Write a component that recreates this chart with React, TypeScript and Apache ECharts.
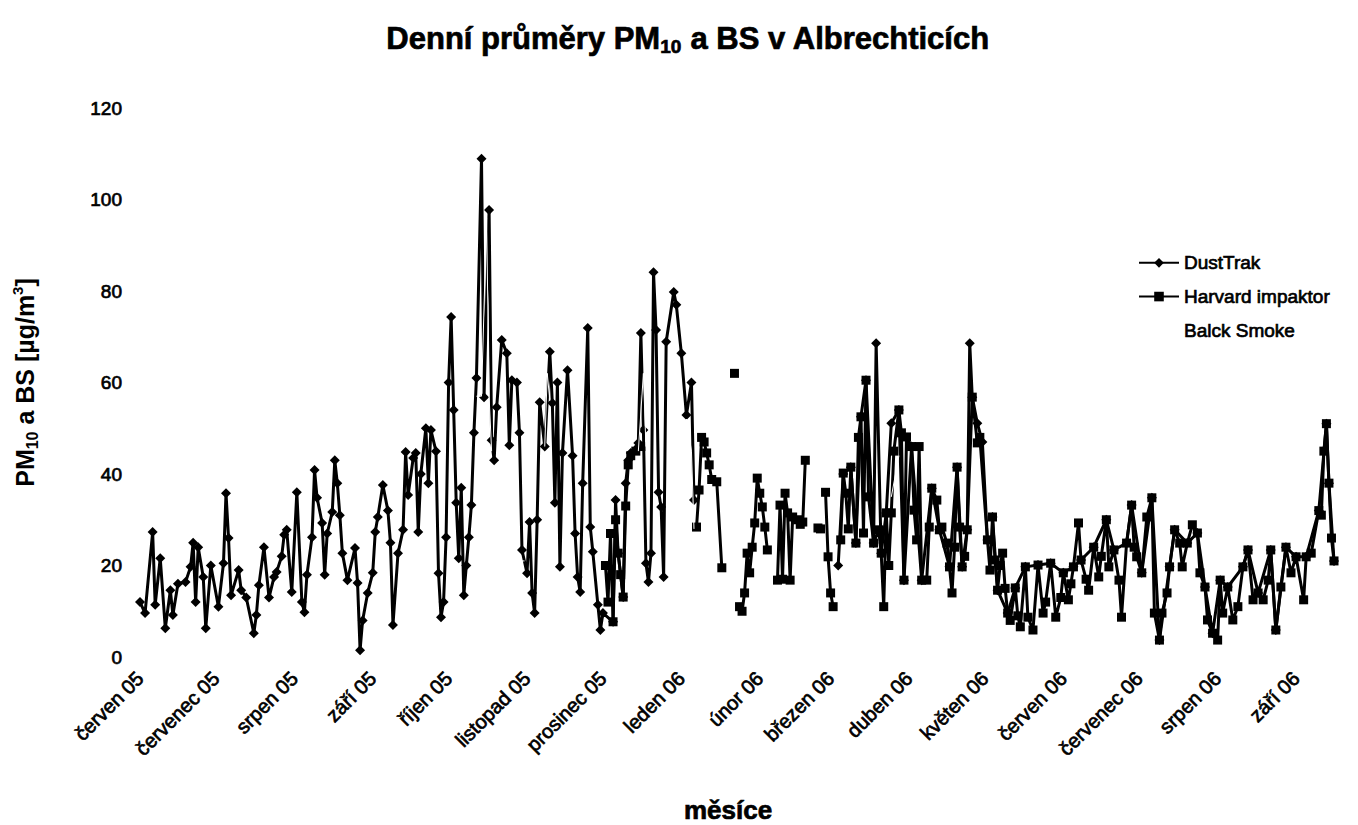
import React, { useEffect, useRef } from "react";
import * as echarts from "echarts";

// Day index = days since 1 June 2005
const START_YEAR = 2005;
const START_MONTH = 5; // June (0-based)
const DAY_COUNT = 473;

const monthNames = ["leden", "únor", "březen", "duben", "květen", "červen", "červenec", "srpen", "září", "říjen", "listopad", "prosinec"];

const yTicks = { min: 0, max: 120, step: 20 };

// DustTrak (diamonds), June 2005 - January 2006
const dustTrakA: [number, number][] = [
  [0, 12], [2, 9.6], [5, 27.3], [6, 11.4], [8, 21.6], [10, 6.3], [12, 14.6], [13, 9.2], [15, 16], [18, 16.4],
  [20, 19.7], [21, 25], [22, 12], [23, 24], [25, 17.5], [26, 6.3], [28, 20], [31, 11], [33, 20.5], [34, 35.8],
  [35, 26], [36, 13.5], [39, 19], [40, 14.6], [42, 13], [45, 5.2], [46, 9.2], [47, 15.7], [49, 24], [51, 13],
  [53, 17.5], [54, 18.6], [56, 22], [57, 26.7], [58, 27.8], [60, 14.2], [62, 36], [64, 12], [65, 9.8], [66, 18],
  [68, 26.2], [69, 40.9], [70, 34.8], [72, 29.3], [73, 18], [74, 27], [76, 31.7], [77, 43], [78, 38], [79, 31],
  [80, 22.7], [82, 16.8], [85, 23.8], [86, 16.2], [87, 1.5], [88, 8], [90, 14], [92, 18.4], [93, 27.3], [94, 30.6],
  [96, 37.6], [98, 32], [99, 25], [100, 7], [102, 22.7], [104, 27.8], [105, 44.8], [106, 35.4], [108, 43.5], [109, 44.6],
  [110, 27.3], [111, 40], [113, 50], [114, 38], [115, 49.6], [117, 45], [118, 18.3], [119, 8.7], [120, 12], [121, 26.2],
  [122, 60], [123, 74.3], [124, 54], [125, 33.7], [126, 21.6], [127, 37], [128, 13.5], [129, 20], [130, 26.2], [131, 33.2],
  [132, 49], [133, 61], [135, 108.9], [136, 56.8], [138, 97.7], [139, 47.4], [140, 43], [141, 54.6], [143, 69.3], [145, 66.4],
  [146, 46.3], [147, 60.5], [149, 60], [150, 49], [151, 23.4], [153, 18.3], [154, 29.5], [155, 14], [156, 9.6], [157, 30],
  [158, 55.7], [160, 46], [162, 66.7], [163, 55.5], [164, 33.7], [165, 60], [166, 19.7], [167, 44.6], [169, 62.7], [171, 44],
  [172, 27], [173, 17.5], [174, 14.2], [175, 38], [177, 71.9], [178, 28.4], [179, 23], [181, 11.4], [182, 5.9], [183, 9.6],
  [187, 7.7], [188, 34.3], [189, 22.7], [191, 13.1], [192, 38], [193, 43], [194, 44.6], [197, 46.8], [198, 70.8], [199, 49.6],
  [200, 20.5], [201, 16.4], [202, 22.7], [203, 84.1], [204, 71.5], [205, 36], [206, 32.8], [207, 17.5], [208, 68.9], [211, 79.8],
  [212, 77], [214, 66.4], [216, 52.9], [218, 60], [219, 34.3],
];

// DustTrak, March - May 2006
const dustTrakB: [number, number][] = [
  [276, 20], [278, 40], [281, 41.5], [283, 24.9], [285, 52.5], [287, 60.5], [290, 24.9], [291, 68.6], [293, 22.7], [295, 31.5],
  [297, 51.1], [300, 54], [302, 16.8], [305, 46], [309, 16.8], [313, 36.9], [316, 27.8], [320, 19.7], [323, 41.5], [325, 19.7],
  [327, 27.8], [328, 68.6], [329, 56.8], [331, 51.1], [333, 47], [335, 25.6],
];

// DustTrak, May - September 2006
const dustTrakC: [number, number][] = [
  [337, 30.6], [339, 14.6], [343, 9.6], [346, 15.1], [350, 19.7], [355, 20.1], [360, 20.5], [365, 18.4], [369, 19.7], [372, 21.2],
  [377, 24], [382, 30], [385, 23.4], [390, 24.9], [392, 33.2], [396, 18.4], [400, 34.8], [403, 3.7], [407, 19.7], [409, 27.8],
  [414, 24.9], [418, 27.1], [421, 15.3], [424, 5.2], [427, 16.8], [430, 15.3], [436, 19.7], [438, 23.4], [442, 14], [447, 23.4],
  [449, 5.9], [453, 24], [457, 21.9], [461, 21.9], [466, 32], [469, 51], [470, 38], [472, 21],
];

// Harvard impaktor (squares); null = missing days
const harvard: [number, number | null][] = [
  [184, 20], [185, 12], [186, 27], [187, 7.7], [188, 30], [189, 22.7], [190, 18], [191, 13.1], [192, 33], [193, 42],
  [194, 44], [196, 45], [198, 46], [199, null],
  [220, 28.4], [221, 36.5], [222, 48], [223, 47], [224, 44.6], [225, 42], [226, 38.8], [228, 38.3], [230, 19.5], [231, null],
  [235, 62], [236, null],
  [237, 11], [238, 10], [239, 14], [240, 22.7], [241, 18.4], [242, 24], [243, 29.3], [244, 39.1], [245, 35.8], [246, 32.8],
  [247, 28.4], [248, 23.4], [249, null],
  [252, 16.8], [253, 33.2], [254, 17], [255, 35.8], [256, 31.5], [257, 16.8], [258, 30.6], [260, 30], [261, 29], [262, 29.5],
  [263, 43], [264, null],
  [268, 28.2], [269, 28], [270, null],
  [271, 36], [272, 21.9], [273, 14], [274, 11], [275, null],
  [277, 25.6], [278, 40.2], [279, 35.8], [280, 28], [281, 41.5], [283, 24.9], [284, 48], [285, 52.5], [286, 27.1], [287, 60.5],
  [288, 35], [290, 24.9], [292, 27.8], [293, 22.7], [294, 11], [295, 31.5], [296, 20], [297, 31.5], [298, 45], [300, 54],
  [301, 49], [302, 16.8], [303, 48.1], [305, 46], [306, 32.1], [307, 25.6], [308, 46], [309, 16.8], [311, 16.8], [312, 28.4],
  [313, 36.9], [315, 34.3], [316, 27.8], [317, 28.4], [319, 24.9], [320, 19.7], [321, 14], [322, 24], [323, 41.5], [324, 28.4],
  [325, 19.7], [326, 22], [327, 27.8], [329, 56.8], [331, 46.8], [332, 48],
  [335, 25.6], [336, 19], [337, 30.6], [338, 21.2], [339, 14.6], [340, 20], [341, 22.7], [342, 15], [343, 9.6], [344, 8],
  [346, 15.1], [347, 9], [348, 6.6], [350, 19.7], [351, 8.7], [353, 5.9], [355, 20.1], [357, 9.6], [358, 12], [360, 20.5],
  [362, 8.7], [364, 13], [365, 18.4], [367, 12.5], [368, 16], [369, 19.7], [371, 29.3], [372, 21.2], [374, 17], [375, 14.6],
  [377, 24], [379, 17.5], [380, 22], [382, 30], [383, 19.7], [385, 23.4], [387, 16.8], [388, 8.7], [390, 24.9], [392, 33.2],
  [393, 24], [394, 21.9], [396, 18.4], [398, 30.6], [400, 34.8], [401, 9.6], [403, 3.7], [404, 9.6], [406, 14], [407, 19.7],
  [409, 27.8], [411, 24.9], [412, 19.7], [414, 24.9], [416, 28.9], [418, 27.1], [419, 18.4], [421, 15.3], [422, 8.1], [424, 5.2],
  [426, 3.7], [427, 16.8], [428, 9.6], [430, 15.3], [432, 8.1], [434, 11], [436, 19.7], [438, 23.4], [440, 12.5], [442, 14],
  [444, 12.5], [446, 16.8], [447, 23.4], [449, 5.9], [451, 15.3], [453, 24], [455, 18.4], [457, 21.9], [460, 12.5], [461, 21.9],
  [463, 22.7], [466, 32], [467, 31], [468, 45], [469, 51], [470, 38], [471, 26], [472, 21],
];

// Black Smoke (white line), visible only where it crosses the black lines
const blackSmoke: [number, number | null][] = [
  [133, 57], [135, 57], [137, 96], [138, 57], [139, 45], [140, null],
  [150, 21], [152, 21], [153, null],
  [160, 46], [161, 62], [162, 56], [163, null],
  [197, 45], [199, 62], [200, 46], [201, null],
  [214, 50], [216, 52], [218, 45], [219, 28], [220, null],
  [233, 45], [234, 45], [235, null],
  [266, 22], [268, 22], [269, null],
  [297, 35], [300, 44],
];

function buildDays(): string[] {
  const out: string[] = [];
  for (let i = 0; i < DAY_COUNT; i++) {
    const d = new Date(Date.UTC(START_YEAR, START_MONTH, 1 + i));
    const m = String(d.getUTCMonth() + 1).padStart(2, "0");
    const dd = String(d.getUTCDate()).padStart(2, "0");
    out.push(`${d.getUTCFullYear()}-${m}-${dd}`);
  }
  return out;
}

const FONT = "'Liberation Sans', Arial, sans-serif";
const heavy = { textBorderColor: "#000", textBorderWidth: 0.7 };
const heavyG = { stroke: "#000", lineWidth: 0.7 };

export default function App() {
  const ref = useRef<HTMLDivElement>(null);
  useEffect(() => {
    if (!ref.current) return;
    const chart = echarts.init(ref.current, undefined, { renderer: "svg" });
    const days = buildDays();
    const lineBase = {
      type: "line" as const,
      lineStyle: { color: "#000", width: 3 },
      itemStyle: { color: "#000" },
      connectNulls: false,
      showAllSymbol: true,
    };
    chart.setOption({
      animation: false,
      backgroundColor: "#fff",
      textStyle: { fontFamily: FONT, color: "#000" },
      grid: { left: 140, right: 24, top: 108, bottom: 168 },
      legend: {
        orient: "vertical",
        left: 1133,
        top: 248,
        itemWidth: 40,
        itemHeight: 12,
        itemGap: 14,
        textStyle: { fontSize: 19, color: "#000", fontFamily: FONT, ...heavy },
        data: ["DustTrak", "Harvard impaktor", "Balck Smoke"],
      },
      xAxis: {
        type: "category",
        data: days,
        boundaryGap: false,
        axisLine: { show: false },
        axisTick: { show: false },
        splitLine: { show: false },
        axisLabel: {
          interval: (_i: number, v: string) => v.slice(8) === "01",
          rotate: 45,
          margin: 18,
          fontSize: 20,
          color: "#000",
          fontFamily: FONT,
          ...heavy,
          formatter: (v: string) => monthNames[parseInt(v.slice(5, 7), 10) - 1] + " " + v.slice(2, 4),
        },
      },
      yAxis: {
        type: "value",
        min: yTicks.min,
        max: yTicks.max,
        interval: yTicks.step,
        axisLine: { show: false },
        axisTick: { show: false },
        splitLine: { show: false },
        axisLabel: { fontSize: 19, color: "#000", margin: 18, fontFamily: FONT, ...heavy },
        name: "{a|PM}{s|10}{a| a BS [µg/m}{p|3}{a|]}",
        nameLocation: "middle",
        nameGap: 100,
        nameRotate: 90,
        nameTextStyle: {
          rich: {
            a: { fontSize: 25, fontWeight: "bold", color: "#000", fontFamily: FONT, lineHeight: 30 },
            s: { fontSize: 16, fontWeight: "bold", color: "#000", fontFamily: FONT, verticalAlign: "bottom", lineHeight: 30 },
            p: { fontSize: 15, fontWeight: "bold", color: "#000", fontFamily: FONT, verticalAlign: "top", lineHeight: 30 },
          },
        },
      },
      graphic: [
        {
          type: "text",
          x: 688,
          y: 38,
          style: {
            text: "{a|Denní průměry PM}{s|10}{a| a BS v Albrechticích}",
            align: "center",
            verticalAlign: "middle",
            rich: {
              a: { fontSize: 31, fontWeight: "bold", fill: "#000", fontFamily: FONT, lineHeight: 36, ...heavyG },
              s: { fontSize: 19, fontWeight: "bold", fill: "#000", fontFamily: FONT, verticalAlign: "bottom", lineHeight: 36, ...heavyG },
            },
          },
        },
        {
          type: "text",
          x: 728,
          y: 810,
          style: { text: "měsíce", fontSize: 26, fontWeight: "bold", fill: "#000", fontFamily: FONT, align: "center", verticalAlign: "middle", ...heavyG },
        },
      ],
      series: [
        { ...lineBase, name: "DustTrak", symbol: "diamond", symbolSize: 10, data: dustTrakA, z: 3 },
        { ...lineBase, name: "DustTrak", symbol: "diamond", symbolSize: 10, data: dustTrakB, z: 3 },
        { ...lineBase, name: "DustTrak", symbol: "diamond", symbolSize: 10, data: dustTrakC, z: 3 },
        { ...lineBase, name: "Harvard impaktor", symbol: "rect", symbolSize: 9, data: harvard, z: 4 },
        {
          type: "line",
          name: "Balck Smoke",
          symbol: "none",
          showSymbol: false,
          data: blackSmoke,
          connectNulls: false,
          lineStyle: { color: "#fff", width: 1 },
          itemStyle: { color: "#fff" },
          z: 5,
        },
      ],
    });
    return () => chart.dispose();
  }, []);
  return <div ref={ref} style={{ position: "fixed", left: 0, top: 0, width: 1358, height: 825, background: "#fff" }} />;
}
